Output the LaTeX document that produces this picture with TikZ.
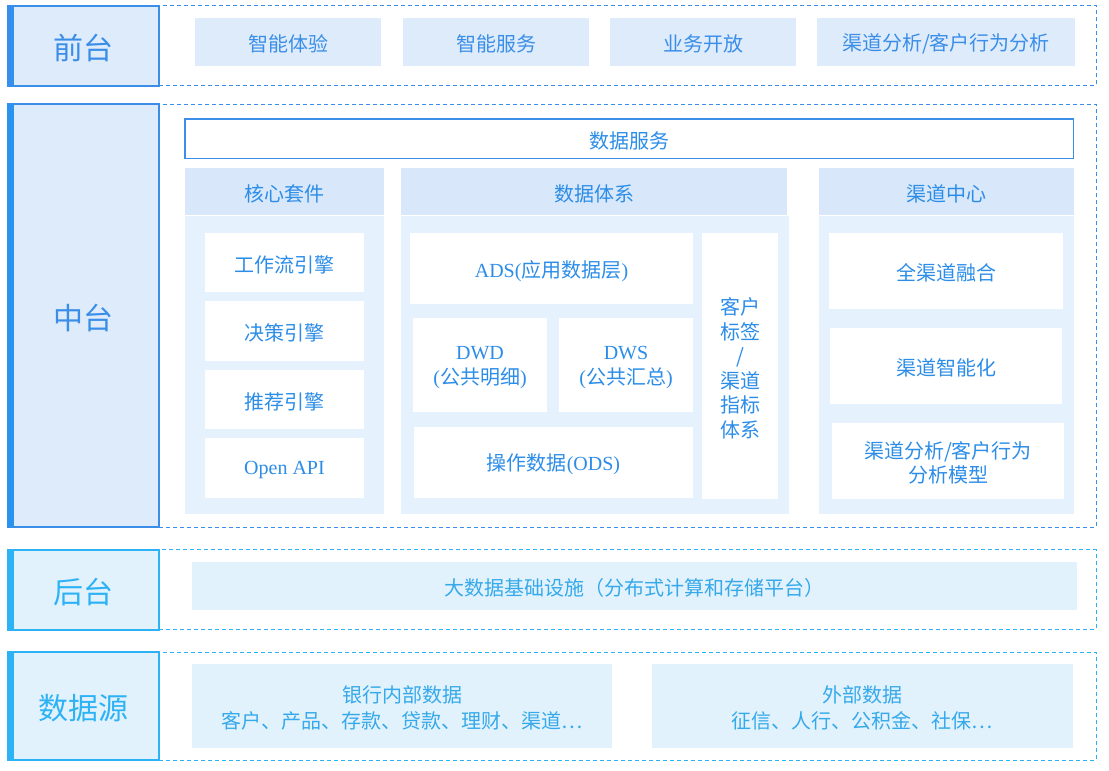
\documentclass[tikz,border=0pt]{standalone}
\usepackage{fontspec}
\setmainfont{Noto Sans CJK SC}
\newfontfamily\lat{Liberation Serif}
\definecolor{fblue}{HTML}{3A8EE8}
\definecolor{fbar}{HTML}{3490EC}
\definecolor{mbar}{HTML}{2A93F0}
\definecolor{mtext}{HTML}{2C8DE8}
\definecolor{lfill}{HTML}{DEEBFB}
\definecolor{hfill}{HTML}{D8E8FA}
\definecolor{bfill}{HTML}{E5F1FD}
\definecolor{cblue}{HTML}{2DB2F5}
\definecolor{ctext}{HTML}{35A9EA}
\definecolor{cfill}{HTML}{E2F2FD}
% empty box
\newcommand{\Ebox}[6]{\node[#1, minimum width={(#5)-(#3)}, minimum height={(#6)-(#4)}] (#2) at ({((#3)+(#5))/2},{((#4)+(#6))/2}) {};}
% box with its text
\newcommand{\Rbox}[7]{\Ebox{#1}{#2}{#3}{#4}{#5}{#6}
  \node[#1, draw=none, fill=none, minimum width=0pt, minimum height=0pt, yshift=-2.2pt] (#2t) at (#2.center) {#7};}
\tikzset{
  base/.style={inner sep=0pt, outer sep=0pt, align=center, font=\fontsize{20}{25}\selectfont},
  region/.style={base, draw=#1, dash pattern=on 4pt off 3pt, line width=1pt},
  lab/.style={base, draw=#1, line width=1.6pt, text=#1, font=\fontsize{30}{36}\selectfont},
  fitem/.style={base, fill=lfill, text=fblue},
  svcbox/.style={base, draw=fblue, line width=1.2pt, fill=white, text=mtext},
  hdr/.style={base, fill=hfill, text=mtext},
  bodybox/.style={base, fill=bfill},
  inner/.style={base, fill=white, text=mtext},
  citem/.style={base, fill=cfill, text=ctext}
}
\begin{document}
\begin{tikzpicture}[x=1pt,y=-1pt]
\useasboundingbox (0,0) rectangle (1109,771);
% regions
\Ebox{region=fblue}{rf}{159.2}{5.5}{1096}{85.5}
\Ebox{region=fblue}{rm}{159.2}{104}{1096}{527.5}
\Ebox{region=cblue}{rb}{159.2}{549.5}{1096}{629}
\Ebox{region=cblue}{rs}{159.2}{652}{1096}{760}
% labels
\Rbox{lab=fblue, fill=lfill}{lf}{7.8}{5.8}{159.2}{86.2}{前台}
\Rbox{lab=fblue, fill=lfill}{lm}{7.8}{103.8}{159.2}{527.2}{中台}
\Rbox{lab=cblue, fill=cfill}{lb}{7.8}{549.8}{159.2}{630.2}{后台}
\Rbox{lab=cblue, fill=cfill}{ls}{7.8}{651.8}{159.2}{760.2}{数据源}
\fill[fbar] ([xshift=-0.8]lf.north west) rectangle ([xshift=6]lf.south west);
\fill[mbar] ([xshift=-0.8]lm.north west) rectangle ([xshift=6]lm.south west);
\fill[cblue] ([xshift=-0.8]lb.north west) rectangle ([xshift=6]lb.south west);
\fill[cblue] ([xshift=-0.8]ls.north west) rectangle ([xshift=6]ls.south west);
% front
\Rbox{fitem}{f1}{195}{18}{381}{66}{智能体验}
\Rbox{fitem}{f2}{403}{18}{589}{66}{智能服务}
\Rbox{fitem}{f3}{610}{18}{796}{66}{业务开放}
\Rbox{fitem}{f4}{817}{18}{1075}{66}{渠道分析/客户行为分析}
% middle
\Rbox{svcbox}{svc}{185}{119}{1073.5}{158.5}{数据服务}
\Rbox{hdr}{h1}{185}{168}{384}{215}{核心套件}
\Rbox{hdr}{h2}{401}{168}{787}{215}{数据体系}
\Rbox{hdr}{h3}{819}{168}{1074}{215}{渠道中心}
\Ebox{bodybox}{b1}{185}{216}{384}{514}
\Ebox{bodybox}{b2}{401}{216}{789}{514}
\Ebox{bodybox}{b3}{819}{216}{1074}{514}
\Rbox{inner}{k1}{205}{233}{364}{292}{工作流引擎}
\Rbox{inner}{k2}{205}{301}{364}{361}{决策引擎}
\Rbox{inner}{k3}{205}{370}{364}{429}{推荐引擎}
\Rbox{inner}{k4}{205}{438}{364}{498}{{\lat Open API}}
\Rbox{inner}{d1}{410}{233}{693}{304}{{\lat ADS(}应用数据层{\lat )}}
\Rbox{inner}{d2}{413}{318}{547}{412}{{\lat DWD}\\{\lat (}公共明细{\lat )}}
\Rbox{inner}{d3}{559}{318}{693}{412}{{\lat DWS}\\{\lat (}公共汇总{\lat )}}
\Rbox{inner}{d4}{414}{427}{693}{498}{操作数据{\lat (ODS)}}
\Rbox{inner, font=\fontsize{20}{24.5}\selectfont}{d5}{702}{233}{778}{499}{客户\\标签\\/\\渠道\\指标\\体系}
\Rbox{inner}{c1}{829}{233}{1063}{309}{全渠道融合}
\Rbox{inner}{c2}{830}{328}{1062}{404}{渠道智能化}
\Rbox{inner, font=\fontsize{20}{24}\selectfont}{c3}{832}{423}{1064}{499}{渠道分析/客户行为\\分析模型}
% back
\Rbox{citem}{big}{192}{562}{1077}{610}{大数据基础设施（分布式计算和存储平台）}
% sources
\Rbox{citem, font=\fontsize{20}{26}\selectfont}{s1}{192}{664}{612}{748}{银行内部数据\\客户、产品、存款、贷款、理财、渠道⋯}
\Rbox{citem, font=\fontsize{20}{26}\selectfont}{s2}{652}{664}{1073}{748}{外部数据\\征信、人行、公积金、社保⋯}
\end{tikzpicture}
\end{document}
